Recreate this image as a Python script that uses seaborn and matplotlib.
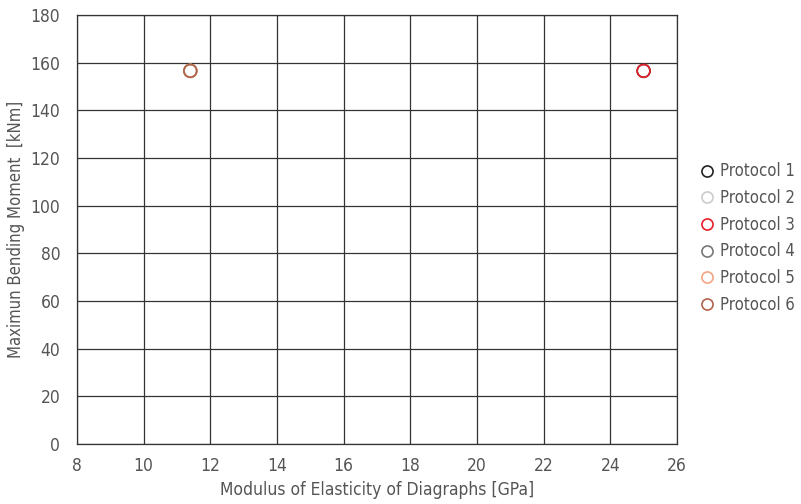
import matplotlib
matplotlib.use("Agg")
import matplotlib.pyplot as plt
import seaborn as sns
import pandas as pd
import numpy as np
from matplotlib.lines import Line2D
from matplotlib import font_manager as fm

protocols = ["Protocol 1", "Protocol 2", "Protocol 3", "Protocol 4", "Protocol 5", "Protocol 6"]
colors = ["#222222", "#cccccc", "#e8202a", "#777777", "#f4a582", "#b0654a"]
modulus = [25.0, 11.4, 25.0, 11.4, 11.4, 11.4]
moment = [156.6, 156.6, 156.6, 156.6, 156.6, 156.6]
draw_order = [0, 1, 3, 4, 5, 2]

sns.set_theme(style="white")

names = {f.name for f in fm.fontManager.ttflist}
cond = [f for f in fm.fontManager.ttflist if "Condensed" in f.name or "Narrow" in f.name
        or f.stretch in ("condensed", "semi-condensed")]
if "Liberation Sans Narrow" in names:
    fam = ["Liberation Sans Narrow", "DejaVu Sans"]
    stretch = "normal"
elif "DejaVu Sans Condensed" in names:
    fam = ["DejaVu Sans Condensed", "DejaVu Sans"]
    stretch = "normal"
elif cond:
    fam = [cond[0].name, "DejaVu Sans"]
    stretch = cond[0].stretch
else:
    fam = ["Roboto", "DejaVu Sans"]
    stretch = "normal"
plt.rcParams['font.family'] = fam
plt.rcParams['font.stretch'] = stretch

df = pd.DataFrame({"x": modulus, "y": moment, "p": protocols})

fig = plt.figure(figsize=(8.01, 5.04), dpi=100)
ax = fig.add_axes([0.0961, 0.119, 0.749, 0.851])

for i in draw_order:
    sub = df[df.p == protocols[i]]
    sns.scatterplot(data=sub, x="x", y="y", ax=ax, s=85, facecolor="none",
                    edgecolor=colors[i], linewidth=1.2, legend=False, zorder=3)

ax.set_xlim(8, 26)
ax.set_ylim(0, 180)
ax.set_xticks(np.arange(8, 27, 2))
ax.set_yticks(np.arange(0, 181, 20))
ax.grid(True, color="#333333", linewidth=0.9)
for s in ax.spines.values():
    s.set_color("#333333")
    s.set_linewidth(0.9)
ax.tick_params(length=0, labelsize=12.5, labelcolor="#555555")
ax.tick_params(axis="x", pad=9)
ax.tick_params(axis="y", pad=12)
ax.set_xlabel("Modulus of Elasticity of Diagraphs [GPa]", fontsize=12.5, color="#555555", labelpad=5)
ax.set_ylabel("Maximun Bending Moment  [kNm]", fontsize=12, color="#555555", labelpad=4)

handles = [Line2D([], [], marker="o", linestyle="none", markersize=8, markerfacecolor="none",
                  markeredgecolor=c, markeredgewidth=1.2) for c in colors]
leg = ax.legend(handles, protocols, loc="center left", bbox_to_anchor=(1.025, 0.48),
                frameon=False, fontsize=12, handletextpad=0.3, labelspacing=0.52,
                handlelength=1.0, borderaxespad=0)
for t in leg.get_texts():
    t.set_color("#555555")

fig.savefig("out.png", dpi=100)
